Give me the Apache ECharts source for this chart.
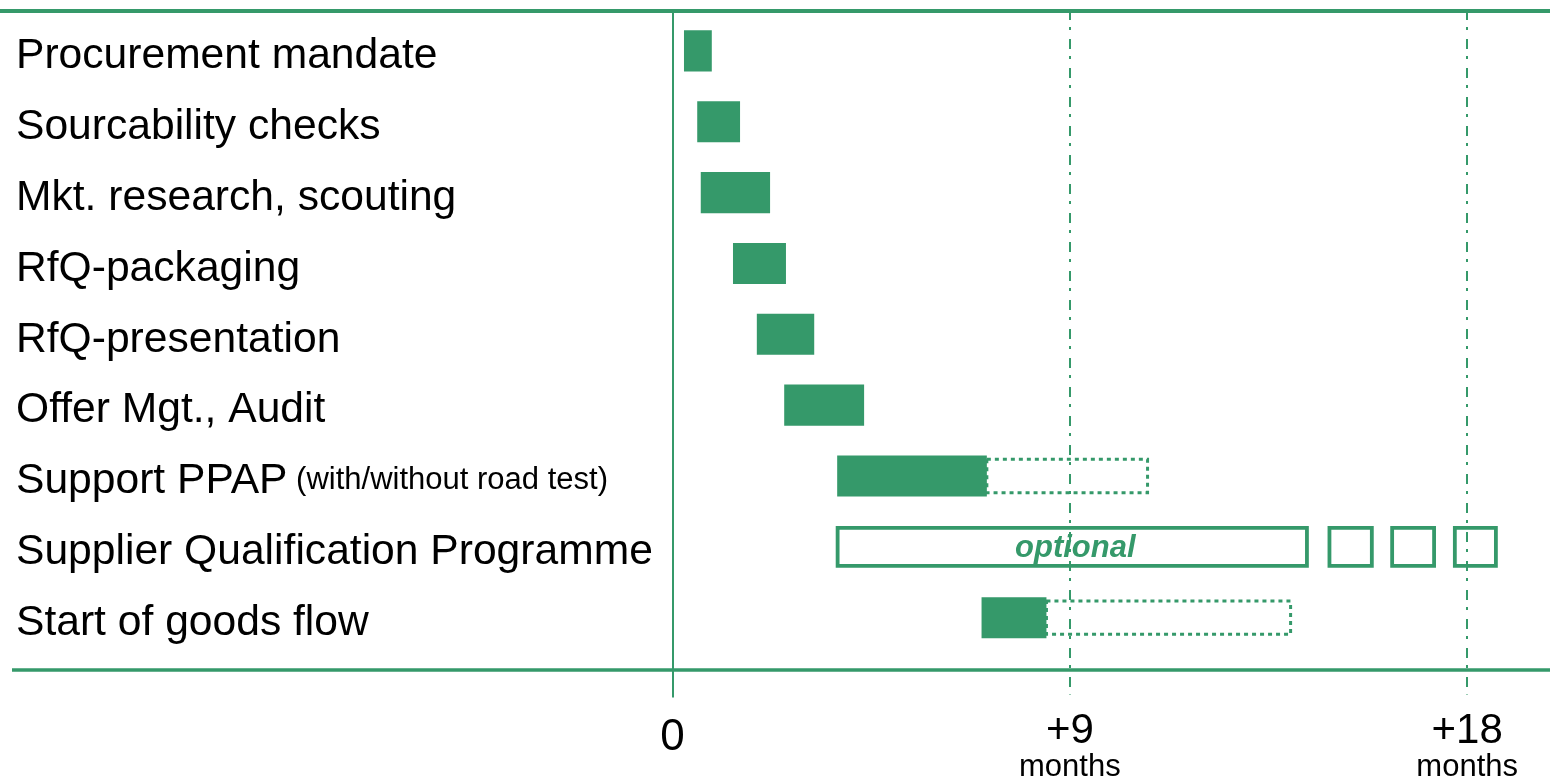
<!DOCTYPE html>
<html>
<head>
<meta charset="utf-8">
<title>Sourcing timeline</title>
<script src="https://cdn.jsdelivr.net/npm/echarts@6/dist/echarts.min.js"></script>
<style>
  html, body { margin: 0; padding: 0; background: #fff; }
  #main { width: 1550px; height: 783px; }
</style>
</head>
<body>
<div id="main"></div>
<script>
// data (months after start)
var tasks = [
    'Procurement mandate',
    'Sourcability checks',
    'Mkt. research, scouting',
    'RfQ-packaging',
    'RfQ-presentation',
    'Offer Mgt., Audit',
    'Support PPAP',
    'Supplier Qualification Programme',
    'Start of goods flow'
];
var taskNotes = ['', '', '', '', '', '', '(with/without road test)', '', ''];
var barStart = [0.26, 0.56, 0.64, 1.37, 1.91, 2.53, 3.73, null, 7.0];
var barEnd   = [0.89, 1.53, 2.21, 2.57, 3.21, 4.34, 7.12, null, 8.47];
var rangeEnd = [null, null, null, null, null, null, 10.76, null, 14.0];   // dotted (possible) extension
var optRow = 7;
var optStart = [3.74, 14.88, 16.30, 17.72];
var optEnd   = [14.37, 15.84, 17.25, 18.65];
var tickValues = [0, 9, 18];
var tickNames  = ['0', '+9', '+18'];

var GREEN = '#35996A';
var FONT = "'Liberation Sans', Arial, Helvetica, sans-serif";

// layout helpers (pixels -> axis units)
var ZERO_X = 672.5, PX_MONTH = 44.15;
var ROW0_Y = 51, ROW_H = 71, TOP_Y = 10, BOTTOM_Y = 699;
function monthAt(px) { return (px - ZERO_X) / PX_MONTH; }
function rowAt(py) { return (py - ROW0_Y) / ROW_H; }

var myChart = echarts.init(document.getElementById('main'));

var solidData = [], dottedData = [], optData = [];
for (var i = 0; i < tasks.length; i++) {
    if (barStart[i] != null) solidData.push([i, barStart[i], barEnd[i]]);
    if (rangeEnd[i] != null) dottedData.push([i, barEnd[i], rangeEnd[i]]);
}
for (var j = 0; j < optStart.length; j++) {
    optData.push([optRow, optStart[j], optEnd[j]]);
}

function rectOf(api, hScale) {
    var s = api.coord([api.value(1), api.value(0)]);
    var e = api.coord([api.value(2), api.value(0)]);
    var h = api.size([0, 1])[1] * hScale;
    return { x: s[0], y: s[1] - h / 2, width: e[0] - s[0], height: h };
}

var option = {
    animation: false,
    grid: { left: 0, right: 0, top: TOP_Y, bottom: 783 - BOTTOM_Y },
    xAxis: {
        type: 'value',
        min: monthAt(0),
        max: monthAt(1550),
        axisLine: { show: false },
        axisTick: { show: false },
        splitLine: { show: false },
        axisLabel: {
            customValues: tickValues,
            margin: 14,
            formatter: function (v) {
                var k = tickValues.indexOf(v);
                if (k === 0) return '{zero|' + tickNames[k] + '}';
                return '{big|' + tickNames[k] + '}\n{small|months}';
            },
            rich: {
                zero: { fontSize: 44, lineHeight: 52, color: '#000', fontFamily: FONT },
                big: { fontSize: 42, lineHeight: 39, color: '#000', fontFamily: FONT },
                small: { fontSize: 31, lineHeight: 34, color: '#000', fontFamily: FONT }
            }
        }
    },
    yAxis: {
        type: 'value',
        inverse: true,
        min: rowAt(TOP_Y),
        max: rowAt(BOTTOM_Y),
        axisLine: { show: false },
        axisTick: { show: false },
        splitLine: { show: false },
        axisLabel: {
            inside: true,
            margin: 16,
            customValues: tasks.map(function (t, i) { return i; }),
            formatter: function (v) {
                var note = taskNotes[v] ? '{note| ' + taskNotes[v] + '}' : '';
                return '{name|' + tasks[v] + '}' + note;
            },
            rich: {
                name: { fontSize: 42.6, lineHeight: 46, color: '#000', fontFamily: FONT, padding: [11, 0, 0, 0] },
                note: { fontSize: 31, lineHeight: 31, color: '#000', fontFamily: FONT, verticalAlign: 'bottom', padding: [0, 0, 3, 0] }
            }
        }
    },
    series: [
        {
            name: 'range',
            type: 'custom',
            data: dottedData,
            encode: { x: [1, 2], y: 0 },
            renderItem: function (params, api) {
                return {
                    type: 'rect',
                    shape: rectOf(api, 0.47),
                    style: { fill: 'none', stroke: GREEN, lineWidth: 3, lineDash: [4, 4] }
                };
            },
            markLine: {
                silent: true,
                symbol: 'none',
                label: { show: false },
                data: [
                    { yAxis: rowAt(TOP_Y + 0.5), lineStyle: { color: GREEN, width: 4, type: 'solid' } },
                    [
                        { coord: [monthAt(12), rowAt(671)], lineStyle: { color: GREEN, width: 3.5, type: 'solid' } },
                        { coord: [monthAt(1550), rowAt(671)] }
                    ],
                    { xAxis: tickValues[0], lineStyle: { color: GREEN, width: 2, type: 'solid' } },
                    [
                        { coord: [tickValues[1], rowAt(TOP_Y)], lineStyle: { color: GREEN, width: 2, type: [10, 7, 3, 9] } },
                        { coord: [tickValues[1], rowAt(696)] }
                    ],
                    [
                        { coord: [tickValues[2], rowAt(TOP_Y)], lineStyle: { color: GREEN, width: 2, type: [10, 7, 3, 9] } },
                        { coord: [tickValues[2], rowAt(696)] }
                    ]
                ]
            }
        },
        {
            name: 'optional',
            type: 'custom',
            data: optData,
            encode: { x: [1, 2], y: 0 },
            renderItem: function (params, api) {
                var r = rectOf(api, 0.535);
                var box = {
                    type: 'rect',
                    shape: r,
                    style: { fill: 'none', stroke: GREEN, lineWidth: 3.8 }
                };
                if (params.dataIndex !== 0) return box;
                return {
                    type: 'group',
                    children: [box, {
                        type: 'text',
                        x: r.x + r.width / 2 + 3,
                        y: r.y + r.height / 2 + 2,
                        style: {
                            text: 'optional',
                            fill: GREEN,
                            font: 'italic bold 31px ' + FONT,
                            align: 'center',
                            verticalAlign: 'middle'
                        }
                    }]
                };
            }
        },
        {
            name: 'duration',
            type: 'custom',
            data: solidData,
            encode: { x: [1, 2], y: 0 },
            renderItem: function (params, api) {
                return {
                    type: 'rect',
                    shape: rectOf(api, 0.58),
                    style: { fill: GREEN }
                };
            }
        }
    ]
};

myChart.setOption(option);
</script>
</body>
</html>
